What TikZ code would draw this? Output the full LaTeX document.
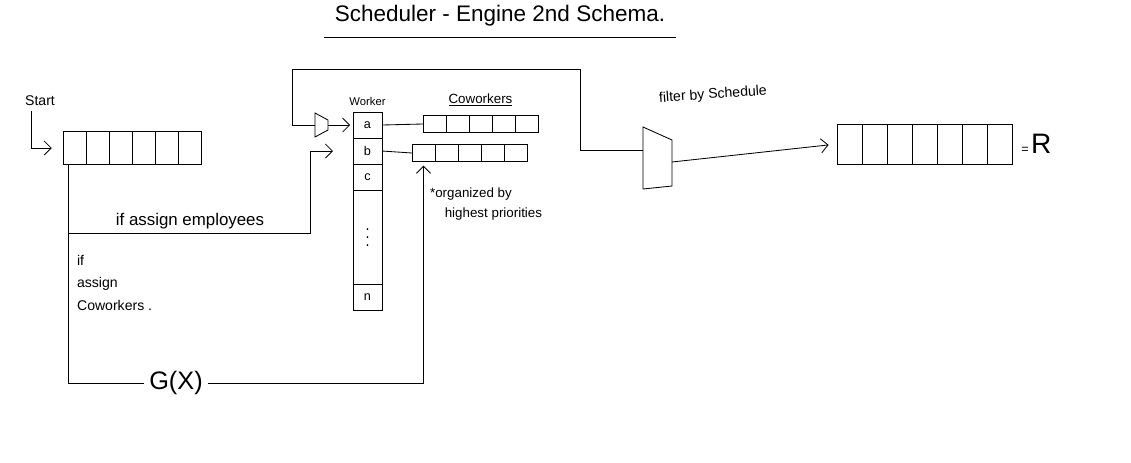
\documentclass[tikz,border=0pt]{standalone}
\usepackage{fontspec}
\setmainfont{Liberation Sans}
\usetikzlibrary{arrows.meta, positioning, calc}

\begin{document}
\begin{tikzpicture}[x=0.025cm, y=-0.025cm, line width=0.6pt, >={Straight Barb[length=5pt]},
  cell/.style={draw, inner sep=0pt, outer sep=0pt, minimum width=0.575cm, minimum height=#1},
  cell/.default=0.825cm,
  wcell/.style={draw, inner sep=0pt, outer sep=0pt, minimum width=0.725cm, minimum height=0.65cm, font=\small},
  lbl/.style={font=\fontsize{10}{12}\selectfont}]
  \useasboundingbox (0,0) rectangle (1131,462);
  % title
  \node[font=\fontsize{16}{18}\selectfont] (title) at (500,16) {Scheduler - Engine 2nd Schema.};
  \draw ([xshift=-4pt,yshift=-4pt]title.south west) -- ([xshift=4pt,yshift=-4pt]title.south east);
  % input array
  \foreach \i in {1,...,6}
    \node[cell] (in\i) at ({63+23*(\i-0.5)},148) {};
  \node[lbl] (start) at (40,101) {Start};
  \draw[->, shorten >=8pt] ([xshift=-6pt]start.south) |- (in1.west);
  % worker column
  \node[wcell] (wa) at (367.5,125) {a};
  \node[wcell, below=0pt of wa] (wb) {b};
  \node[wcell, below=0pt of wb] (wc) {c};
  \node[wcell, minimum height=2.35cm, below=0pt of wc] (wdots) {};
  \node[wcell, below=0pt of wdots] (wn) {n};
  \foreach \d in {-8,0,8}
    \fill ($(wdots.center)+(0,\d)$) circle (0.7pt);
  \node[font=\fontsize{8}{10}\selectfont, above=1pt of wa] (wlabel) {Worker};
  % coworker rows
  \foreach \i in {1,...,5} {
    \node[cell=0.425cm] (ca\i) at ({423+23*(\i-0.5)},124) {};
    \node[cell=0.425cm] (cb\i) at ({412+23*(\i-0.5)},153) {};
  }
  \node[font=\fontsize{9.5}{11}\selectfont, above=3pt of ca3] (cwlabel) {\underline{Coworkers}};
  \draw (wa.east) -- (ca1.west);
  \draw (wb.east) -- (cb1.west);
  \node[align=left, anchor=north west, font=\fontsize{9.5}{14}\selectfont] (lblprio) at (425,183)
    {*organized by\\\hspace{1.1em}highest priorities};
  % small funnel into worker
  \coordinate (sfa) at (315,113);
  \coordinate (sfb) at (328,120);
  \coordinate (sfc) at (328,130);
  \coordinate (sfd) at (315,137);
  \draw (sfa) -- (sfb) -- (sfc) -- (sfd) -- cycle;
  \coordinate (sfin) at (315,125);
  \coordinate (sfout) at (328,125);
  \draw[->, shorten >=2pt] (sfout) -- (wa.west);
  % filter by schedule
  \coordinate (fa) at (643,127);
  \coordinate (fb) at (672,140);
  \coordinate (fc) at (672,186);
  \coordinate (fd) at (643,189);
  \draw (fa) -- (fb) -- (fc) -- (fd) -- cycle;
  \coordinate (fin) at (643,150);
  \coordinate (fout) at (672,162);
  \node[lbl, rotate=4] (lblfilter) at (713,95) {filter by Schedule};
  \draw (sfin) -- (292,125) |- (580,69) |- (fin);
  % result array
  \foreach \i in {1,...,7}
    \node[cell=1cm, minimum width=0.625cm] (r\i) at ({837+25*(\i-0.5)},144) {};
  \node[right=3pt of r7] (req) {{\small =}\,{\fontsize{20}{22}\selectfont R}};
  \draw[->, shorten >=6pt] (fout) -- (r1.west);
  % branches from input
  \node[font=\fontsize{18}{20}\selectfont] (gx) at (176,383) {G(X)};
  \coordinate (drop) at ($(in1.south west)!0.25!(in1.south east)$);
  \coordinate (split) at (drop |- 0,233);
  \coordinate (wbin) at ($(wb.west)+(-20,0)$);
  \draw (drop) -- (split);
  \draw[->] (split) -- (310,233) |- (wbin);
  \node[font=\fontsize{12}{14}\selectfont] (lblemp) at (190,221) {if assign employees};
  \draw (split) -- (drop |- 0,383) -- (gx.west);
  \node[align=left, anchor=north west, font=\fontsize{10}{16}\selectfont] (lblcw) at (72,250)
    {if\\assign\\Coworkers .};
  \draw[->, shorten >=3pt] (gx.east) -| (cb1.south);
\end{tikzpicture}
\end{document}
